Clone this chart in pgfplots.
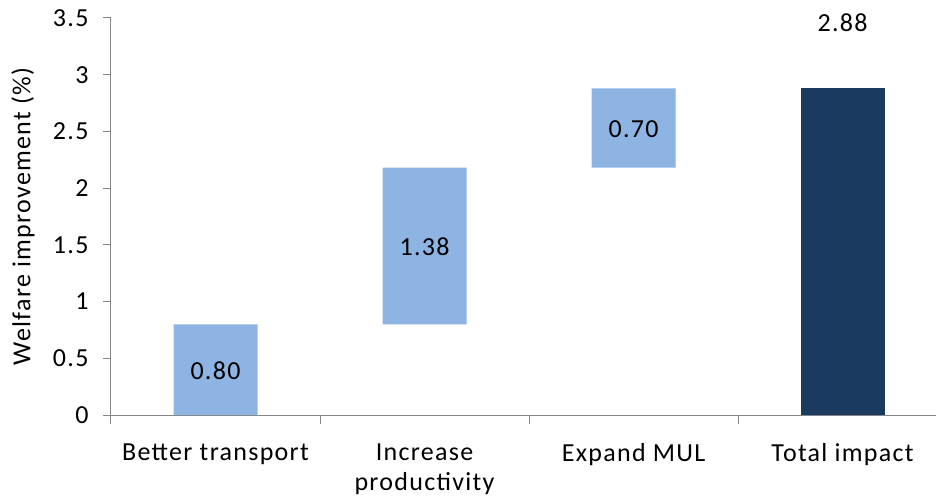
\documentclass[border=0pt]{standalone}
\usepackage{pgfplots}
\pgfplotsset{compat=1.18}
\usepackage{fontspec}
\setmainfont{Carlito}[LetterSpace=5]
\definecolor{lightbar}{HTML}{8EB4E3}
\definecolor{darkbar}{HTML}{1B3A5F}
\definecolor{axgrey}{HTML}{868686}
\newcommand{\lf}{\fontsize{26}{30}\selectfont}
\begin{document}
\begin{tikzpicture}[x=1pt,y=1pt]
\path[use as bounding box] (-111,-88) rectangle (825,415);
\begin{axis}[
  at={(0,0)}, anchor=south west,
  scale only axis, width=825pt, height=397pt,
  ybar stacked, bar width=84pt,
  xmin=-0.5, xmax=3.447, ymin=0, ymax=3.5,
  axis x line=bottom, axis y line=left,
  axis line style={draw=axgrey, line width=1pt, -},
  every tick/.style={draw=axgrey, line width=1pt},
  xtick={0,1,2,3},
  xticklabels={Better transport, Increase\\productivity, Expand MUL, Total impact},
  major x tick style={draw=none},
  minor xtick={-0.5,0.5,1.5,2.5},
  minor tick length=9pt,
  xticklabel style={font=\lf, align=center, yshift=-17pt, anchor=north},
  ytick={0,0.5,1,1.5,2,2.5,3,3.5},
  yticklabels={0,0.5,1,1.5,2,2.5,3,3.5},
  major tick length=8pt,
  y tick label style={font=\lf, xshift=-11pt},
  tick align=outside,
  /pgf/number format/assume math mode=true,
  ylabel={Welfare improvement (\%)},
  ylabel style={font=\lf, at={(axis description cs:0,0.5)}, anchor=center, yshift=88pt},
  clip=false,
]
\addplot[draw=none, fill=none] coordinates {(0,0) (1,0.80) (2,2.18) (3,0)};
\addplot[draw=none, fill=lightbar] coordinates {(0,0.80) (1,1.38) (2,0.70) (3,0)};
\addplot[draw=none, fill=darkbar] coordinates {(0,0) (1,0) (2,0) (3,2.88)};
\coordinate (l1) at (axis cs:0,0.39);
\coordinate (l2) at (axis cs:1,1.48);
\coordinate (l3) at (axis cs:2,2.52);
\coordinate (l4) at (axis cs:3,3.46);
\end{axis}
\node[font=\lf] at (l1) {0.80};
\node[font=\lf] at (l2) {1.38};
\node[font=\lf] at (l3) {0.70};
\node[font=\lf] at (l4) {2.88};
\end{tikzpicture}
\end{document}
